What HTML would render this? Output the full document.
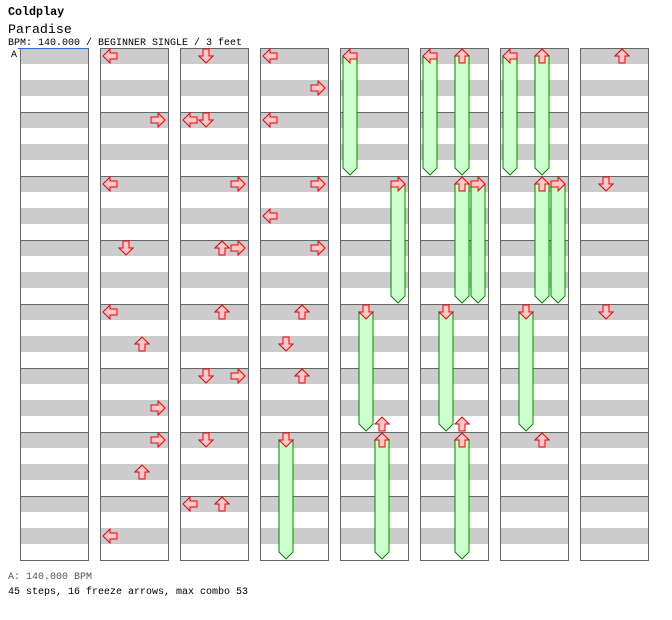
<!DOCTYPE html>
<html><head><meta charset="utf-8"><style>
body{margin:0;background:#fff;width:672px;height:620px;overflow:hidden;font-family:"Liberation Mono",monospace}
</style></head><body>
<svg id="c" width="672" height="620" xmlns="http://www.w3.org/2000/svg" style="position:absolute;left:0;top:0;font-family:'Liberation Mono',monospace">
<text x="8" y="15" font-size="11.7" font-weight="bold">Coldplay</text>
<text x="8" y="33" font-size="13.3">Paradise</text>
<text x="8" y="45" font-size="10">BPM: 140.000 / BEGINNER SINGLE / 3 feet</text>
<text x="11" y="57" font-size="10">A</text>
<text x="8" y="579" font-size="10" fill="#555">A: 140.000 BPM</text>
<text x="8" y="594" font-size="10">45 steps, 16 freeze arrows, max combo 53</text>
</svg>
<script>
// [column, lane(0=L,1=D,2=U,3=R), beat within column]
const taps = [
[1,0,0],[1,3,4],[1,0,8],[1,1,12],[1,0,16],[1,2,18],[1,3,22],[1,3,24],[1,2,26],[1,0,30],
[2,1,0],[2,0,4],[2,1,4],[2,3,8],[2,2,12],[2,3,12],[2,2,16],[2,1,20],[2,3,20],[2,1,24],[2,0,28],[2,2,28],
[3,0,0],[3,3,2],[3,0,4],[3,3,8],[3,0,10],[3,3,12],[3,2,16],[3,1,18],[3,2,20],
[4,2,23],[5,2,23],[6,2,24],
[7,2,0],[7,1,8],[7,1,16]
];
// [column, lane, startBeat, endBeat]
const freezes = [
[3,1,24,32],
[4,0,0,8],[4,3,8,16],[4,1,16,24],[4,2,24,32],
[5,0,0,8],[5,2,0,8],[5,2,8,16],[5,3,8,16],[5,1,16,24],[5,2,24,32],
[6,0,0,8],[6,2,0,8],[6,2,8,16],[6,3,8,16],[6,1,16,24]
];
const columns = 8, beatsPerCol = 32;
const NS="http://www.w3.org/2000/svg", svg=document.getElementById('c');
const colX=c=>20+c*80, laneX=(c,l)=>colX(c)+10+16*l, beatY=b=>48+b*16;
function mk(t,a){const e=document.createElementNS(NS,t);for(const k in a)e.setAttribute(k,a[k]);svg.appendChild(e);return e;}
for(let c=0;c<columns;c++){
  for(let b=0;b<beatsPerCol;b+=2){
    const s=mk('rect',{x:colX(c),y:beatY(b),width:68,height:16,fill:'#ccc'});
    
    
  }
  for(let m=1;m<8;m++){
    const l=mk('line',{x1:colX(c),x2:colX(c)+68,y1:beatY(m*4)+.5,y2:beatY(m*4)+.5,stroke:'#666'});
    
    
  }
  const r=mk('rect',{x:colX(c)+.5,y:48.5,width:68,height:512,fill:'none',stroke:'#666'});
  
  
}
const bl=mk('line',{x1:18,x2:88,y1:48.5,y2:48.5,stroke:'#2a6fd6'});


const rot=[-90,180,0,90];
function arrow(c,l,b){
  const x=laneX(c,l)-8,y=beatY(b);
  const p=mk('polygon',{points:'8,1 15,8 11,8 11,15 5,15 5,8 1,8',fill:'#ffc8c8',stroke:'#e00',
    'stroke-width':1,transform:`translate(${x},${y}) rotate(${rot[l]} 8 8)`});
  
  
}
freezes.forEach(f=>{
  const cx=laneX(f[0],f[1]),y0=beatY(f[2])+8,y1=beatY(f[3])-1;
  const p=mk('polygon',{points:`${cx-7},${y0} ${cx+7},${y0} ${cx+7},${y1-7} ${cx},${y1} ${cx-7},${y1-7}`,
    fill:'#ccffcc',stroke:'#080','stroke-width':1});
  
  
  arrow(f[0],f[1],f[2]);
});
taps.forEach(t=>arrow(t[0],t[1],t[2]));
</script>
</body></html>
